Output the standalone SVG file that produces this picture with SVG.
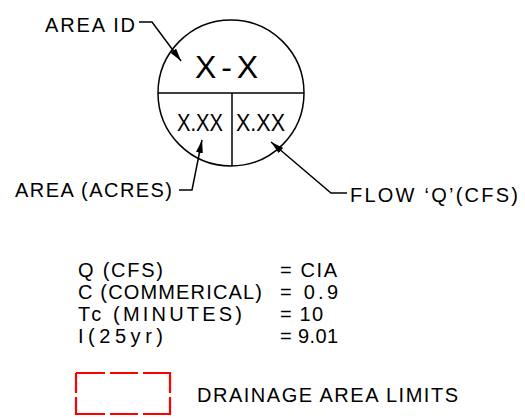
<svg xmlns="http://www.w3.org/2000/svg" width="525" height="419" viewBox="0 0 525 419">
<defs>
<style>
.t{font-family:"Liberation Sans",Arial,sans-serif;fill:#000}
.ln{fill:none;stroke:#000;stroke-width:1.5}
.red{fill:none;stroke:#ff0000;stroke-width:2.2}
</style>
<marker id="ah" markerUnits="userSpaceOnUse" markerWidth="14" markerHeight="8" refX="13" refY="3.5" orient="auto">
<path d="M0,0 L13,3.5 L0,7 z" fill="#000"/>
</marker>
</defs>
<rect width="525" height="419" fill="#fff"/>
<g id="symbol">
<circle cx="231" cy="93" r="73" class="ln"/>
<line x1="158" y1="93" x2="304" y2="93" class="ln"/>
<line x1="232" y1="93" x2="232" y2="166" class="ln"/>
<text class="t" x="195" y="78" font-size="32" textLength="63" lengthAdjust="spacing">X-X</text>
<text class="t" x="177" y="131" font-size="23" textLength="46" lengthAdjust="spacingAndGlyphs">X.XX</text>
<text class="t" x="236" y="131" font-size="23" textLength="49" lengthAdjust="spacingAndGlyphs">X.XX</text>
</g>
<g id="labels">
<text class="t" x="45" y="32" font-size="20" textLength="90" lengthAdjust="spacing">AREA ID</text>
<text class="t" x="15" y="197" font-size="20" textLength="157" lengthAdjust="spacing">AREA (ACRES)</text>
<text class="t" x="350" y="202" font-size="20" textLength="168" lengthAdjust="spacing">FLOW ‘Q’(CFS)</text>
</g>
<g id="connectors">
<path d="M139,22 H152 L181,61" class="ln" marker-end="url(#ah)"/>
<path d="M179,190 H192 L202,140" class="ln" marker-end="url(#ah)"/>
<path d="M347,193 H331 L271,142" class="ln" marker-end="url(#ah)"/>
</g>
<g id="formula" class="t" font-size="20">
<text x="78" y="277" textLength="85" lengthAdjust="spacing">Q (CFS)</text>
<text x="78" y="299" textLength="184" lengthAdjust="spacing">C (COMMERICAL)</text>
<text x="78" y="321" textLength="164" lengthAdjust="spacing">Tc (MINUTES)</text>
<text x="78" y="343" textLength="85" lengthAdjust="spacing">I(25yr)</text>
<text x="280" y="277" textLength="57" lengthAdjust="spacing">= CIA</text>
<text x="280" y="299" textLength="58" lengthAdjust="spacing">= 0.9</text>
<text x="280" y="321" textLength="43" lengthAdjust="spacing">= 10</text>
<text x="280" y="343" textLength="58" lengthAdjust="spacing">= 9.01</text>
</g>
<g id="legend">
<path class="red" d="M76,373 H105 M110,373 H138 M143,373 H170 V393 M170,397 V414 H143 M138,414 H110 M105,414 H76 V397 M76,393 V373"/>
<text class="t" x="197" y="402" font-size="20" textLength="261" lengthAdjust="spacing">DRAINAGE AREA LIMITS</text>
</g>
</svg>
